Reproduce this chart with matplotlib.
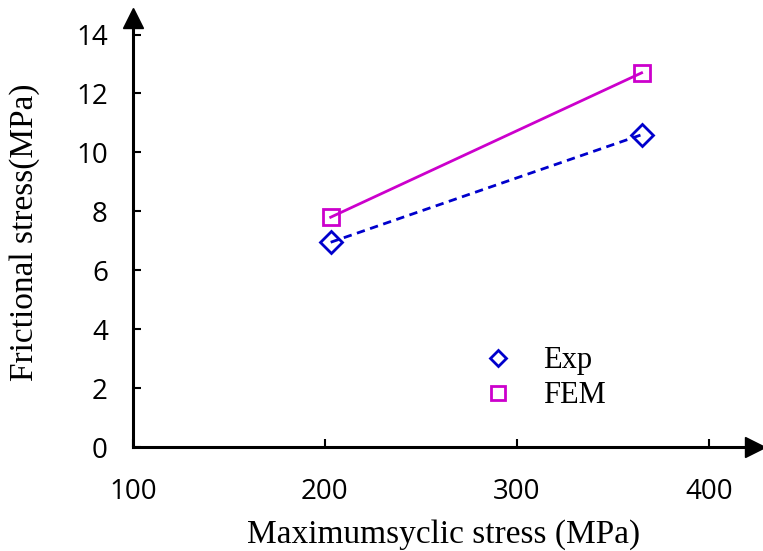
import matplotlib
matplotlib.use("Agg")
import matplotlib.pyplot as plt
from matplotlib.lines import Line2D

# data
stress_max = [203, 365]
exp_friction = [6.95, 10.6]
fem_friction = [7.8, 12.7]
x_ticks = [100, 200, 300, 400]
y_ticks = [0, 2, 4, 6, 8, 10, 12, 14]

exp_color = "#0000CC"
fem_color = "#CC00CC"

fig = plt.figure(figsize=(7.63, 5.51), dpi=100)
ax = fig.add_axes([0.1743, 0.1887, 0.815, 0.778])

ax.plot(stress_max, exp_friction, color=exp_color, linestyle="--", linewidth=2,
        marker="D", markersize=11, markerfacecolor="none", markeredgewidth=2,
        dashes=(3, 2))
ax.plot(stress_max, fem_friction, color=fem_color, linestyle="-", linewidth=2,
        marker="s", markersize=12, markerfacecolor="none", markeredgewidth=2)

ax.set_xlim(100, 424)
ax.set_ylim(0, 14.55)
ax.set_xticks(x_ticks)
ax.set_yticks(y_ticks)

for side in ["top", "right"]:
    ax.spines[side].set_visible(False)
for side in ["left", "bottom"]:
    ax.spines[side].set_linewidth(2.2)

# arrow heads on the axes
ax.plot(1, 0, marker=">", markersize=14, color="black", transform=ax.transAxes, clip_on=False)
ax.plot(0, 1, marker="^", markersize=14, color="black", transform=ax.transAxes, clip_on=False)

ax.tick_params(direction="in", length=6, width=1.5, labelsize=20)
ax.tick_params(axis="y", pad=18)
ax.tick_params(axis="x", pad=22)
for lbl in ax.get_xticklabels() + ax.get_yticklabels():
    lbl.set_family("Open Sans")

ax.set_xlabel("Maximumsyclic stress (MPa)", family="Liberation Serif", fontsize=24, labelpad=10)
ax.set_ylabel("Frictional stress(MPa)", family="Liberation Serif", fontsize=24, labelpad=26)

handles = [
    Line2D([], [], color=exp_color, linestyle="none", marker="D", markersize=8,
           markerfacecolor="none", markeredgewidth=2, label="Exp"),
    Line2D([], [], color=fem_color, linestyle="none", marker="s", markersize=10,
           markerfacecolor="none", markeredgewidth=2, label="FEM"),
]
ax.legend(handles=handles, loc="center", bbox_to_anchor=(0.664, 0.16), frameon=False,
          prop={"family": "Liberation Serif", "size": 22}, handlelength=0.8,
          handletextpad=1.07, labelspacing=0.2)

fig.savefig("out.png", dpi=100)
